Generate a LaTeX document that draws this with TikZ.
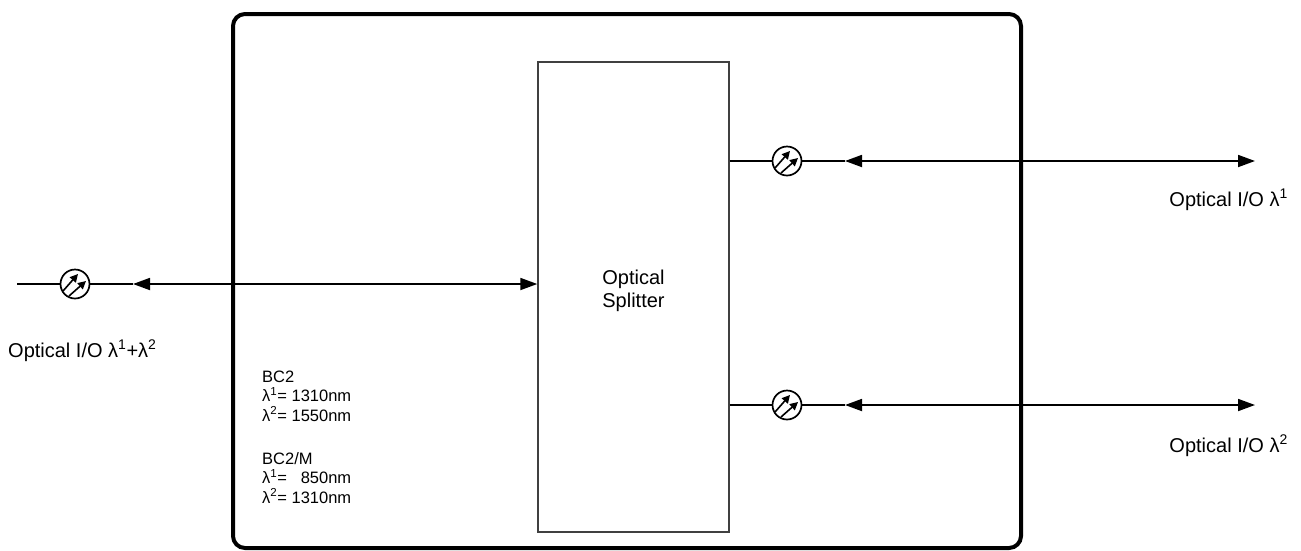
\documentclass[tikz,border=0pt]{standalone}
\usepackage{fontspec}
\setmainfont{Liberation Sans}
\usetikzlibrary{arrows.meta,calc}
\begin{document}
\begin{tikzpicture}[x=1pt,y=-1pt,
  conn/.style={line width=1.8pt},
  both/.style={{Triangle[length=17pt,width=12pt]}-{Triangle[length=17pt,width=12pt]}},
  port/.style={circle,draw,line width=1.7pt,minimum size=29pt,inner sep=0pt,fill=white},
  lbl/.style={font=\fontsize{20}{24}\selectfont,inner sep=0pt},
  bctext/.style={font=\fontsize{16.5}{19.5}\selectfont,align=left,inner sep=0pt},
]
\useasboundingbox (0,0) rectangle (1301,550);
% outer box
\draw[line width=4pt,rounded corners=12pt] (233,14) rectangle (1021,548);
% splitter
\node[draw=black!75,line width=1.4pt,minimum width=191pt,minimum height=470pt,inner sep=0pt] (split) at (633.5,297) {};
\node[align=center,font=\fontsize{20}{23}\selectfont,inner sep=0pt] (splittxt) at ($(split.center)+(0,-6)$) {Optical\\Splitter};
% ports
\node[port] (p0) at (75,284) {};
\node[port] (p1) at (787,161) {};
\node[port] (p2) at (787,405) {};
\foreach \p in {p0,p1,p2}{
  \draw[line width=1.6pt,-{Triangle[length=8pt,width=8pt]}] ($(\p)+(-12,7)$) -- ($(\p)+(3,-10)$);
  \draw[line width=1.6pt,-{Triangle[length=8pt,width=8pt]}] ($(\p)+(-6,12)$) -- ($(\p)+(11,-3)$);
}
% coordinates
\coordinate (l0) at (17,284);
\coordinate (a0) at (133,284);
\coordinate (a1) at (845,161);
\coordinate (e1) at (1255,161);
\coordinate (a2) at (845,405);
\coordinate (e2) at (1255,405);
% left connection
\draw[conn] (l0) -- (p0.west);
\draw[conn] (p0.east) -- (a0);
\draw[conn,both] (a0) -- (split.west |- a0);
% right top
\draw[conn] (split.east |- p1) -- (p1.west);
\draw[conn] (p1.east) -- (a1);
\draw[conn,both] (a1) -- (e1);
% right bottom
\draw[conn] (split.east |- p2) -- (p2.west);
\draw[conn] (p2.east) -- (a2);
\draw[conn,both] (a2) -- (e2);
% labels
\node[lbl,anchor=base west] (t0) at (8,357) {Optical I/O λ\textsuperscript{1}+λ\textsuperscript{2}};
\node[lbl,anchor=base east] (t1) at (1288,206) {Optical I/O λ\textsuperscript{1}};
\node[lbl,anchor=base east] (t2) at (1288,452) {Optical I/O λ\textsuperscript{2}};
\node[bctext,anchor=base west] (bc1) at (262,421) {BC2\\λ\textsuperscript{1}= 1310nm\\λ\textsuperscript{2}= 1550nm};
\node[bctext,anchor=base west] (bc2) at (262,503) {BC2/M\\λ\textsuperscript{1}= \phantom{1}850nm\\λ\textsuperscript{2}= 1310nm};
\end{tikzpicture}
\end{document}
